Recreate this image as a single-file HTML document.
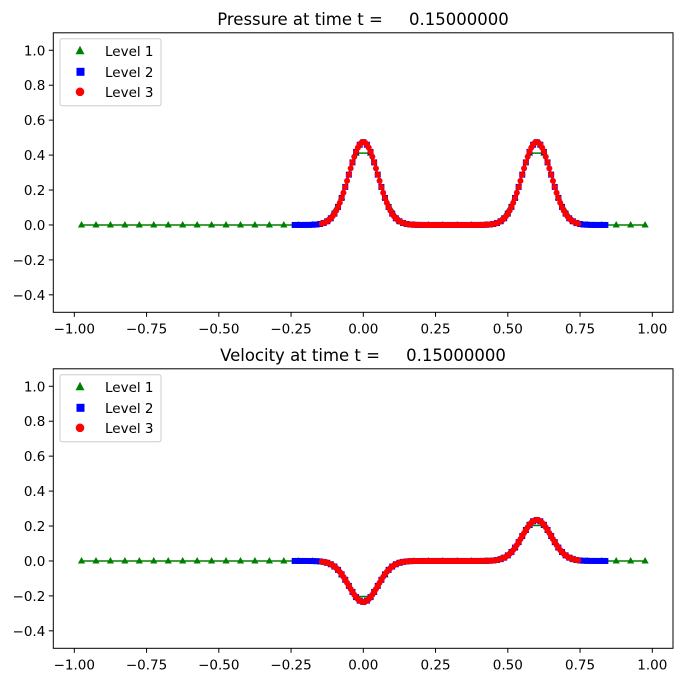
<!DOCTYPE html>
<html><head><meta charset="utf-8"><style>
html,body{margin:0;padding:0;background:#fff;}
svg{display:block;font-family:"DejaVu Sans","Liberation Sans",sans-serif;}
</style></head><body>
<svg id="s" width="683" height="682" xmlns="http://www.w3.org/2000/svg"></svg>
<script>
const S=document.getElementById('s');let h='';
const X0=53.3,X1=673,xmin=-1.0727,xmax=1.0716;
const sx=x=>X0+(x-xmin)/(xmax-xmin)*(X1-X0);
function g(x,c){return Math.exp(-0.5*((x-c)/0.05)**2);}
const P=x=>0.475*(g(x,0)+g(x,0.6));
const V=x=>0.235*(-g(x,0)+g(x,0.6));
function avg(f,x,w){let s=0,n=20;for(let i=0;i<n;i++)s+=f(x-w/2+(i+0.5)*w/n);return s/n;}
const levels=[
 {c:'green',a:-0.975,b:0.975,d:0.05,m:'tri',w:1.5,k:0.8},
 {c:'blue',a:-0.2375,b:0.8375,d:0.0125,m:'sq',w:1.5,k:1},
 {c:'red',a:-0.14375,b:0.74375,d:0.00625,m:'ci',w:2.2,k:1}];
function panel(top,title,f){
 const Y0=top,Y1=top+279.5,ymin=-0.5,ymax=1.1;
 const sy=y=>Y1-(y-ymin)/(ymax-ymin)*(Y1-Y0);
 h+=`<text x="363" y="${top-8}" font-size="16.5" text-anchor="middle" xml:space="preserve">${title}</text>`;
 for(let i=-4;i<=4;i++){const v=i*0.25,x=sx(v);
  h+=`<line x1="${x}" y1="${Y1}" x2="${x}" y2="${Y1+4.5}" stroke="#000" stroke-width="1"/>`;
  h+=`<text x="${x}" y="${Y1+21}" font-size="13.5" text-anchor="middle">${(v<0?'−':'')+Math.abs(v).toFixed(2)}</text>`;}
 for(let i=-2;i<=5;i++){const v=i*0.2,y=sy(v);
  h+=`<line x1="${X0}" y1="${y}" x2="${X0-4.5}" y2="${y}" stroke="#000" stroke-width="1"/>`;
  h+=`<text x="${X0-8}" y="${y+5}" font-size="13.5" text-anchor="end">${(v<-1e-9?'−':'')+Math.abs(v).toFixed(1)}</text>`;}
 for(const L of levels){let pts=[],mk='';
  for(let x=L.a;x<=L.b+1e-9;x+=L.d){const v=avg(f,x,L.d*L.k),px=sx(x),py=sy(v);pts.push(px.toFixed(2)+','+py.toFixed(2));
   if(L.m=='tri')mk+=`<polygon points="${px},${py-4} ${px-3.6},${py+2.6} ${px+3.6},${py+2.6}" fill="green"/>`;
   else if(L.m=='sq')mk+=`<rect x="${px-3}" y="${py-3}" width="6" height="6" fill="blue"/>`;
   else mk+=`<circle cx="${px}" cy="${py}" r="3" fill="red"/>`;}
  h+=`<polyline points="${pts.join(' ')}" fill="none" stroke="${L.c}" stroke-width="${L.w}"/>`+mk;}
 h+=`<rect x="${X0}" y="${Y0}" width="${X1-X0}" height="${Y1-Y0}" fill="none" stroke="#000" stroke-width="1"/>`;
 const ly=top+6;
 h+=`<rect x="60" y="${ly}" width="101" height="67" rx="2" fill="#fff" fill-opacity="0.8" stroke="#ccc" stroke-width="1"/>`;
 const r1=ly+12,r2=ly+33,r3=ly+53;
 h+=`<polygon points="80,${r1-5} 75.5,${r1+3.5} 84.5,${r1+3.5}" fill="green"/><text x="105" y="${r1+5}" font-size="13.5">Level 1</text>`;
 h+=`<rect x="76.5" y="${r2-4}" width="8" height="8" fill="blue"/><text x="105" y="${r2+5}" font-size="13.5">Level 2</text>`;
 h+=`<circle cx="80" cy="${r3}" r="4.3" fill="red"/><text x="105" y="${r3+5}" font-size="13.5">Level 3</text>`;
}
panel(32.8,'Pressure at time t =     0.15000000',P);
panel(368.8,'Velocity at time t =     0.15000000',V);
S.innerHTML=h;
</script>
</body></html>
